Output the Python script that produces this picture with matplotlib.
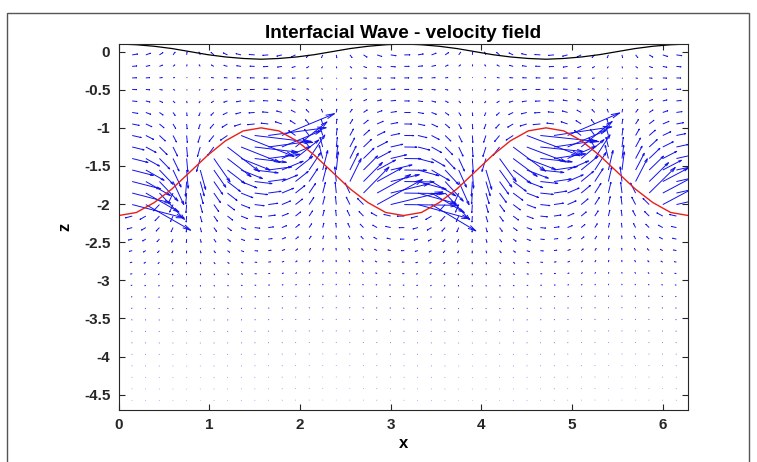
import numpy as np
import matplotlib.pyplot as plt
from matplotlib.collections import LineCollection
from matplotlib.patches import Rectangle

plt.rcParams['font.family'] = ['Liberation Sans', 'DejaVu Sans']

# interface and free surface at x = k*pi/16
line_x = np.linspace(0, 2 * np.pi, 33)
interface_z = [-2.15, -2.11, -1.98, -1.80, -1.58, -1.36, -1.17, -1.04, -1.00,
               -1.04, -1.17, -1.36, -1.58, -1.80, -1.98, -2.11, -2.15,
               -2.11, -1.98, -1.80, -1.58, -1.36, -1.17, -1.04, -1.00,
               -1.04, -1.17, -1.36, -1.58, -1.80, -1.98, -2.11, -2.15]
surface_z = [0.10, 0.09, 0.07, 0.04, 0.00, -0.04, -0.07, -0.09, -0.10,
             -0.09, -0.07, -0.04, 0.00, 0.04, 0.07, 0.09, 0.10,
             0.09, 0.07, 0.04, 0.00, -0.04, -0.07, -0.09, -0.10,
             -0.09, -0.07, -0.04, 0.00, 0.04, 0.07, 0.09, 0.10]

# wave parameters
wavenumber = 2.0
interface_mean = -1.575
interface_amp = 0.575
surface_amp = 0.10

# quiver grid
grid_x = 0.15 * np.arange(1, 42)
grid_z = -0.043 - 0.151 * np.arange(31)

xticks = [0, 1, 2, 3, 4, 5, 6]
yticks = [0, -0.5, -1, -1.5, -2, -2.5, -3, -3.5, -4, -4.5]
ytick_labels = ['0', '-0.5', '-1', '-1.5', '-2', '-2.5', '-3', '-3.5', '-4', '-4.5']

# linear two-layer wave: lower layer deep, upper layer between interface and surface
k = wavenumber
h0 = interface_mean
r = surface_amp / interface_amp
e1, e2 = np.exp(k * h0), np.exp(-k * h0)
beta = (1 + r * e1) / (e2 - e1)
alpha = r + beta

X, Z = np.meshgrid(grid_x, grid_z)
eta = h0 - interface_amp * np.cos(k * X)
upper = Z > eta
dec = np.exp(k * (Z - h0))
U = np.where(upper, (alpha * np.exp(k * Z) + beta * np.exp(-k * Z)) * np.cos(k * X),
             -dec * np.cos(k * X))
W = np.where(upper, (alpha * np.exp(k * Z) - beta * np.exp(-k * Z)) * np.sin(k * X),
             -dec * np.sin(k * X))

scale = 0.25
su, sw = scale * U.ravel(), scale * W.ravel()
x0, z0 = X.ravel(), Z.ravel()
tx, tz = x0 + su, z0 + sw
ha, hb = 0.15, 0.25   # matlab-like head
segs = []
for i in range(len(x0)):
    segs.append([(x0[i], z0[i]), (tx[i], tz[i])])
    segs.append([(tx[i] - ha * (su[i] + hb * sw[i]), tz[i] - ha * (sw[i] - hb * su[i])),
                 (tx[i], tz[i]),
                 (tx[i] - ha * (su[i] - hb * sw[i]), tz[i] - ha * (sw[i] + hb * su[i]))])

fig = plt.figure(figsize=(7.57, 4.62), dpi=100)
ax = fig.add_axes([0.1567, 0.1126, 0.7528, 0.7922])

ax.add_collection(LineCollection(segs, colors='#1010f0', linewidths=0.7))
ax.plot(line_x, interface_z, color='#e8201a', lw=1.0)
ax.plot(line_x, surface_z, color='k', lw=0.9)

ax.set_xlim(0, 2 * np.pi)
ax.set_ylim(-4.7, 0.1)
ax.set_xticks(xticks)
ax.set_xticklabels([str(t) for t in xticks])
ax.set_yticks(yticks)
ax.set_yticklabels(ytick_labels)
ax.tick_params(direction='in', length=4, width=0.8, top=True, right=True,
               labelsize=11, colors='#262626', pad=6)
for lab in ax.get_xticklabels() + ax.get_yticklabels():
    lab.set_fontweight('bold')
for s in ax.spines.values():
    s.set_linewidth(0.8)
    s.set_color('#262626')

ax.set_title('Interfacial Wave - velocity field', fontsize=13.7, fontweight='bold', pad=4)
ax.set_xlabel('x', fontsize=12, fontweight='bold', labelpad=3)
ax.set_ylabel('z', fontsize=12, fontweight='bold', labelpad=8)

fig.patches.append(Rectangle((7 / 757, -0.02), 742 / 757, (462 - 13) / 462 + 0.02,
                             transform=fig.transFigure, fill=False,
                             edgecolor='#555555', lw=1.0))

fig.savefig('out.png', dpi=100)
